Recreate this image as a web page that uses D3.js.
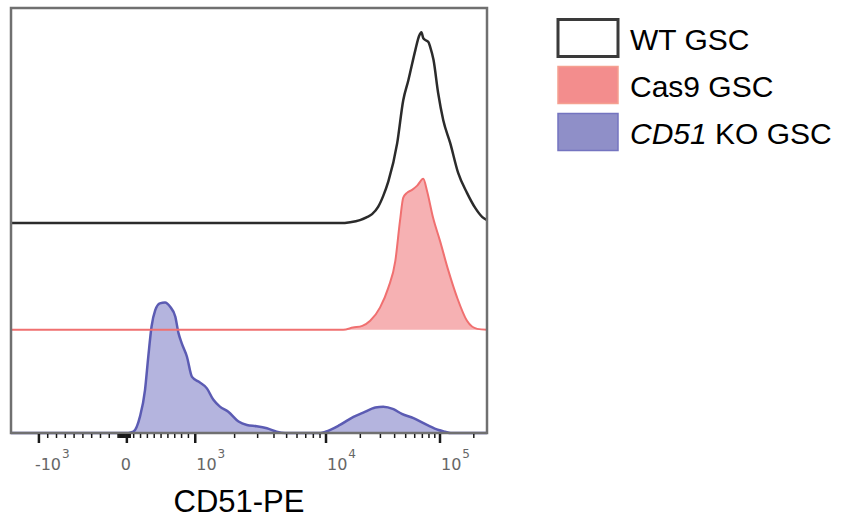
<!DOCTYPE html>
<html>
<head>
<meta charset="utf-8">
<script src="https://cdn.jsdelivr.net/npm/d3@7"></script>
<style>
  body { margin: 0; background: #fff; }
</style>
</head>
<body>
<svg id="chart" width="850" height="518"></svg>
<script>
/**
 * Staggered flow histograms, CD51-PE
 * x = display channel (0-1023, biexponential display), y = % of max
 */

// WT GSC
var wt_channel = [0, 707, 729, 750, 765, 776, 789, 800, 811, 830, 843, 854, 869, 877, 882, 886, 890, 897, 901, 908, 918, 929, 944, 961, 980, 998, 1013, 1023]
var wt_count   = [0, 0, 0.2, 0.7, 1.4, 2.1, 3.8, 6.4, 9.8, 18.8, 28.9, 33.6, 40.7, 44.0, 44.9, 43.5, 43.1, 42.6, 41.4, 38.4, 30.6, 24.2, 18.8, 11.8, 7.1, 3.5, 1.4, 0.7]

// Cas9 GSC
var cas9_channel = [0, 714, 735, 755, 772, 793, 811, 826, 836, 843, 851, 862, 873, 886, 894, 907, 922, 940, 959, 980, 1002, 1023]
var cas9_count   = [0, 0, 0.5, 0.9, 2.1, 5.2, 9.9, 16.2, 25.6, 31.1, 32.2, 32.9, 33.9, 35.5, 32.7, 26.4, 20.9, 13.9, 7.5, 2.1, 0.2, 0]

// CD51 KO GSC
var ko_channel = [0, 252, 263, 277, 288, 295, 302, 310, 320, 331, 342, 353, 360, 367, 378, 389, 403, 421, 435, 449, 467, 489, 507, 528, 550, 571, 589, 665, 676, 707, 736, 757, 783, 800, 822, 840, 865, 894, 919, 933, 945, 1023]
var ko_count   = [0, 0, 0.3, 3.8, 10.1, 17.9, 25.0, 28.9, 30.5, 30.7, 29.7, 27.4, 23.5, 21.1, 18.0, 13.2, 12.1, 10.5, 7.8, 6.2, 5.0, 2.7, 1.9, 1.6, 1.1, 0.3, 0, 0, 0.3, 1.9, 3.8, 4.8, 6.0, 6.2, 5.6, 4.5, 3.5, 1.9, 0.7, 0.3, 0, 0]

// stagger offset of each histogram (same units as count)
var wt_offset = 49.4
var cas9_offset = 24.3
var ko_offset = 0

// axis ticks (intensity values)
var major_ticks = [-1000, 0, 1000, 10000, 100000]
var minor_ticks = [-900, -800, -700, -600, -500, -400, -300, -200, -100,
                   -90, -80, -70, -60, -50, -40, -30, -20, -10, 10, 20, 30, 40, 50,
                   100, 200, 300, 400, 500, 600, 700, 800, 900,
                   2000, 3000, 4000, 5000, 6000, 7000, 8000, 9000,
                   20000, 30000, 40000, 50000, 60000, 70000, 80000, 90000, 200000]
var label_values = [-1000, 0, 1000, 10000, 100000]
var label_bases  = ['-10', '0', '10', '10', '10']
var label_exps   = ['3', '', '3', '4', '5']

var legend_italic = ['', '', 'CD51']
var legend_rest   = ['WT GSC', 'Cas9 GSC', ' KO GSC']

// plot box (note: "top" is taken by window.top)
var box_left = 11, box_right = 487, box_top = 8, box_bottom = 433

var svg = d3.select('#chart')

var x = d3.scaleLinear().domain([0, 1023]).range([box_left, box_right])
var y = d3.scaleLinear().domain([0, 100]).range([box_bottom, box_top])

// display transform: linear around zero, log above 10^3
var lin_part = d3.scaleLinear().domain([-1000, 0, 1000]).range([60, 249, 396])
var log_part = d3.scaleLog().domain([1000, 10000, 100000, 262144]).range([396, 677, 922, 1023])
function channel_of(v) {
    return Math.abs(v) <= 1000 ? lin_part(v) : log_part(v)
}

function pts(chs, counts) {
    return chs.map(function(c, i) { return {ch: c, n: counts[i]} })
}

function draw_hist(data, offset, fill, stroke, sw) {
    var area = d3.area()
        .x(function(d) { return x(d.ch) })
        .y0(y(offset))
        .y1(function(d) { return y(d.n + offset) })
        .curve(d3.curveMonotoneX)
    var line = d3.line()
        .x(function(d) { return x(d.ch) })
        .y(function(d) { return y(d.n + offset) })
        .curve(d3.curveMonotoneX)
    if (fill != 'none') {
        svg.append('path').attr('d', area(data)).attr('fill', fill)
    }
    svg.append('path').attr('d', line(data))
        .attr('fill', 'none')
        .attr('stroke', stroke)
        .attr('stroke-width', sw)
        .attr('stroke-linejoin', 'round')
}

draw_hist(pts(ko_channel, ko_count), ko_offset, '#b4b4de', '#5b5bb3', 2.5)
draw_hist(pts(cas9_channel, cas9_count), cas9_offset, '#f6b1b3', '#f07070', 2)
draw_hist(pts(wt_channel, wt_count), wt_offset, 'none', '#2b2b2b', 2.5)

// frame
svg.append('rect')
    .attr('x', box_left).attr('y', box_top)
    .attr('width', box_right - box_left).attr('height', box_bottom - box_top)
    .attr('fill', 'none')
    .attr('stroke', '#707070')
    .attr('stroke-width', 2.5)

// ticks
svg.selectAll('.minor')
    .data(minor_ticks)
    .enter()
    .append('line')
    .attr('x1', function(d) { return x(channel_of(d)) })
    .attr('x2', function(d) { return x(channel_of(d)) })
    .attr('y1', box_bottom + 1)
    .attr('y2', box_bottom + 5)
    .attr('stroke', '#1a1a1a')
    .attr('stroke-width', 1.5)

svg.selectAll('.major')
    .data(major_ticks)
    .enter()
    .append('line')
    .attr('x1', function(d) { return x(channel_of(d)) })
    .attr('x2', function(d) { return x(channel_of(d)) })
    .attr('y1', box_bottom + 1)
    .attr('y2', box_bottom + 10)
    .attr('stroke', '#1a1a1a')
    .attr('stroke-width', 2.5)

// tick labels
var labels = svg.selectAll('.tlabel')
    .data(label_values)
    .enter()
    .append('text')
    .attr('x', function(d, i) {
        var px = x(channel_of(d))
        if (label_exps[i] == '') return px - 1
        if (d < 0) return px - 4
        return px + 1
    })
    .attr('y', 470)
    .attr('text-anchor', function(d, i) { return label_exps[i] == '' ? 'middle' : 'start' })
    .style('font-family', 'DejaVu Sans')
    .style('font-size', '16px')
    .attr('fill', '#666')
labels.append('tspan').text(function(d, i) { return label_bases[i] })
labels.append('tspan')
    .attr('dx', 1)
    .attr('dy', -12)
    .style('font-size', '12px')
    .text(function(d, i) { return label_exps[i] })

// axis title
svg.append('text')
    .attr('x', 239).attr('y', 512)
    .attr('text-anchor', 'middle')
    .style('font-family', 'Liberation Sans, Arial')
    .style('font-size', '31px')
    .attr('fill', '#000')
    .text('CD51-PE')

// legend
var legend_fill   = ['#ffffff', '#f38d8d', '#8f8fc8']
var legend_stroke = ['#3a3a3a', '#f5a090', '#7474c0']
var legend_sw     = [3, 1.5, 1.5]

var leg = svg.selectAll('.leg')
    .data(legend_rest)
    .enter()
    .append('g')
    .attr('transform', function(d, i) { return 'translate(558,' + (19.5 + i * 47) + ')' })
leg.append('rect')
    .attr('width', 60).attr('height', 37)
    .attr('fill', function(d, i) { return legend_fill[i] })
    .attr('stroke', function(d, i) { return legend_stroke[i] })
    .attr('stroke-width', function(d, i) { return legend_sw[i] })
var lt = leg.append('text')
    .attr('x', 72).attr('y', 30.5)
    .style('font-family', 'Liberation Sans, Arial')
    .style('font-size', '30px')
    .attr('fill', '#000')
lt.append('tspan').style('font-style', 'italic').text(function(d, i) { return legend_italic[i] })
lt.append('tspan').text(function(d) { return d })
</script>
</body>
</html>
